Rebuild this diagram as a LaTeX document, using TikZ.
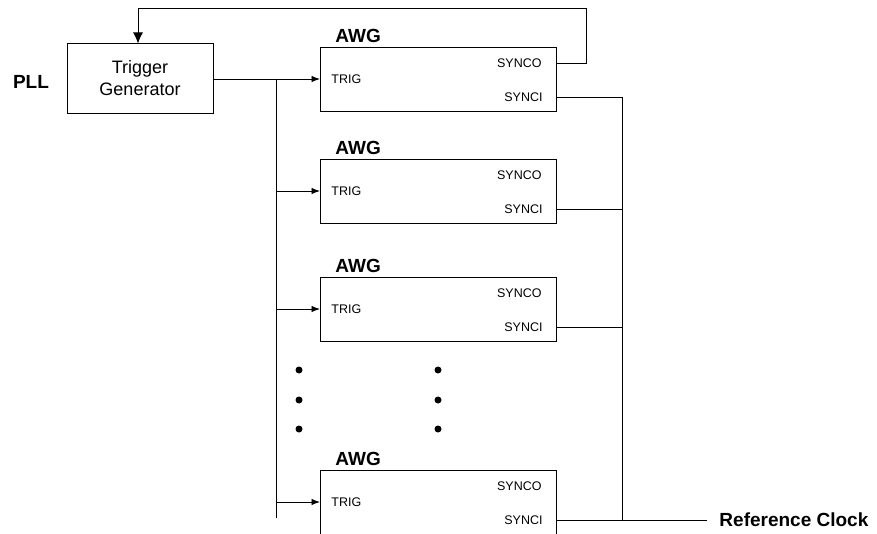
\documentclass[tikz,border=0pt]{standalone}
\usepackage{fontspec}
\setmainfont{Liberation Sans}
\usetikzlibrary{arrows.meta}
\begin{document}
\begin{tikzpicture}[x=1pt,y=-1pt, line width=0.95pt,
  awgbox/.style={draw, minimum width=236pt, minimum height=64pt, anchor=north west, inner sep=0pt, outer sep=0pt},
  port/.style={font=\fontsize{12.5}{14}\selectfont, inner sep=0pt},
  biglabel/.style={font=\fontsize{19}{22}\selectfont\bfseries, inner sep=0pt},
  trigarrow/.style={-{Latex[length=8.5pt,width=6.5pt]}},
  dotmark/.style={circle, fill, inner sep=0pt, minimum size=7pt}]
\useasboundingbox (0,0) rectangle (877,534);
\clip (0,0) rectangle (877,534);

% Trigger generator and PLL
\node[draw, minimum width=146pt, minimum height=70pt, align=center, inner sep=0pt, outer sep=0pt,
      font=\fontsize{18}{22}\selectfont] (tg) at (140,78.5) {Trigger\\Generator};
\node[biglabel] (pll) at (31,82) {PLL};

% AWG boxes
\foreach \i/\t/\h in {1/47/64,2/159/64,3/277/64,4/470/90} {
  \node[awgbox, minimum height=\h pt] (a\i) at (320,\t) {};
  \node[biglabel, anchor=west] (l\i) at (335,\t-11) {AWG};
  \node[port, anchor=east] (so\i) at (542,\t+16) {SYNCO};
  \node[port, anchor=west] (tr\i) at (331,\t+32) {TRIG};
  \node[port, anchor=east] (si\i) at (543,\t+50) {SYNCI};
  \coordinate (in\i) at (320,\t+32);
  \coordinate (tb\i) at (276,\t+32);
  \coordinate (out\i) at (556,\t+50);
  \coordinate (bus\i) at (622,\t+50);
  \draw (out\i) -- (bus\i);
  \draw[trigarrow] (tb\i) -- (in\i);
}

% trigger distribution
\coordinate (tbend) at (276,518);
\draw (tg.east |- tb1) -- (tb1);
\draw (tb1) -- (tbend);

% sync bus and reference clock
\draw (bus1) -- (bus4);
\coordinate (refend) at (707,520);
\draw (bus4) -- (refend);
\node[biglabel, anchor=west] (ref) at (719,520) {Reference Clock};

% feedback from SYNCO of first AWG
\coordinate (fb0) at (556,63);
\coordinate (fb1) at (586,63);
\coordinate (fb2) at (586,8);
\coordinate (fb3) at (138,8);
\draw[-{Latex[length=11pt,width=10pt]}] (fb0) -- (fb1) -- (fb2) -- (fb3) -- (fb3 |- tg.north);

% ellipsis dots
\foreach \y [count=\k] in {370,400,429} {
  \node[dotmark] (dl\k) at (299,\y) {};
  \node[dotmark] (dr\k) at (438,\y) {};
}
\end{tikzpicture}
\end{document}
